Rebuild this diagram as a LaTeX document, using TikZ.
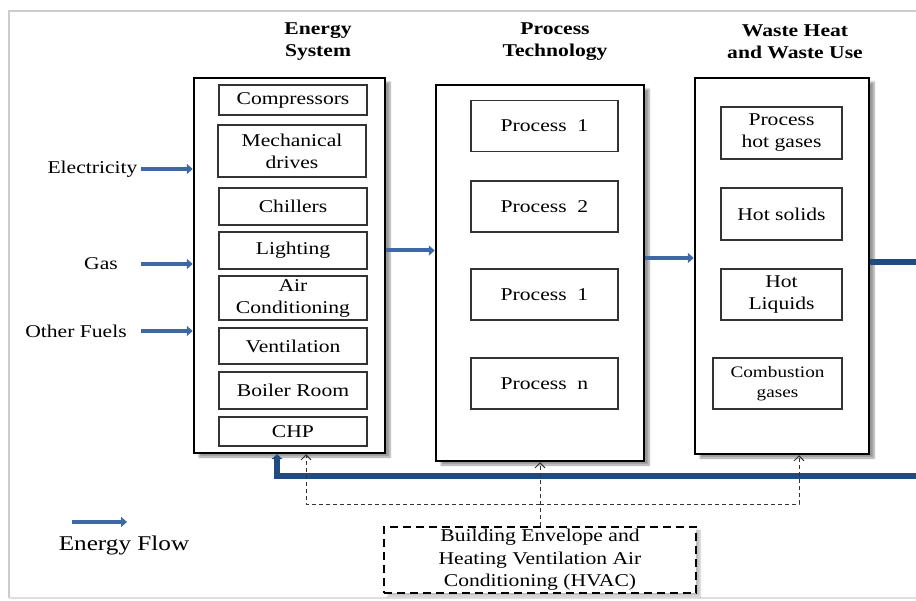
\documentclass[tikz,border=0pt]{standalone}
\usepackage{fontspec}
\setmainfont{Liberation Serif}[FakeStretch=1.2]
\usetikzlibrary{positioning,arrows.meta,shadows.blur}
\definecolor{flowblue}{RGB}{62,104,163}
\definecolor{loopblue}{RGB}{31,74,130}
\tikzstyle{sys}=[draw, line width=2.5pt, fill=white, inner sep=0pt, blur shadow={shadow xshift=5pt, shadow yshift=-4pt, shadow blur steps=6}]
\tikzstyle{subbox}=[draw, line width=1.1pt, draw=black!80, fill=white, inner sep=0pt, align=center, font=\fontsize{18}{22}\selectfont]
\tikzstyle{ttl}=[align=center, font=\fontsize{18}{22}\selectfont\bfseries]
\tikzstyle{lbl}=[font=\fontsize{18}{22}\selectfont]
\tikzstyle{flow}=[-{Triangle[length=6pt,width=10pt]}, line width=4pt, flowblue]
\tikzstyle{feed}=[-{Triangle[length=5pt,width=11pt]}, line width=6.5pt, loopblue]
\tikzstyle{dep}=[-{Straight Barb[length=5pt,width=10pt]}, line width=0.9pt, dash pattern=on 4pt off 3pt, black!80]

\begin{document}
\begin{tikzpicture}[x=1pt,y=-1pt]
\clip (0,0) rectangle (916,601);
% outer frame
\draw[black!20, line width=1.5pt] (9,598) -- (9,11) -- (930,11);
\draw[black!12, line width=1.5pt] (9,598) -- (930,598);

% titles
\node[ttl] at (318,42) (tEnergy) {Energy\\System};
\node[ttl] at (555,42) (tProcess) {Process\\Technology};
\node[ttl] at (795,42) (tWaste) {Waste Heat\\and Waste Use};

% energy system
\node[sys, minimum width=191pt, minimum height=375pt] at (289.5,265.5) (energy) {};
\node[subbox, minimum width=148pt, minimum height=30pt] at (293,100) (comp) {Compressors};
\node[subbox, minimum width=148pt, minimum height=52pt] at (292,151) (mech) {Mechanical\\drives};
\node[subbox, minimum width=148pt, minimum height=37pt] at (293,206.5) (chill) {Chillers};
\node[subbox, minimum width=148pt, minimum height=37pt] at (293,250.5) (light) {Lighting};
\node[subbox, minimum width=148pt, minimum height=44pt] at (293,298) (aircon) {Air\\Conditioning};
\node[subbox, minimum width=148pt, minimum height=36pt] at (293,346) (vent) {Ventilation};
\node[subbox, minimum width=148pt, minimum height=37pt] at (293,390.5) (boiler) {Boiler Room};
\node[subbox, minimum width=148pt, minimum height=29pt] at (293,431.5) (chp) {CHP};

% process technology
\node[sys, minimum width=208pt, minimum height=376pt] at (540,273) (process) {};
\node[subbox, minimum width=147pt, minimum height=51pt] at (544.5,126) (p1) {Process~~1};
\node[subbox, minimum width=147pt, minimum height=51pt] at (544.5,206.5) (p2) {Process~~2};
\node[subbox, minimum width=147pt, minimum height=51pt] at (544.5,294.5) (p3) {Process~~1};
\node[subbox, minimum width=147pt, minimum height=51pt] at (544.5,383.5) (pn) {Process~~n};

% waste heat and waste use
\node[sys, minimum width=174pt, minimum height=376pt] at (782,266) (waste) {};
\node[subbox, minimum width=121pt, minimum height=52pt] at (781.5,133) (hotgas) {Process\\hot gases};
\node[subbox, minimum width=121pt, minimum height=52pt] at (781.5,214) (solids) {Hot solids};
\node[subbox, minimum width=121pt, minimum height=51pt] at (781.5,294.5) (liquids) {Hot\\Liquids};
\node[subbox, minimum width=129pt, minimum height=51pt, font=\fontsize{16}{20}\selectfont] at (777.5,383.5) (comb) {Combustion\\gases};

% inputs
\node[lbl, anchor=east] at (141,169) (elec) {Electricity};
\node[lbl] at (101,264) (gas) {Gas};
\node[lbl] at (76,331) (fuels) {Other Fuels};
\draw[flow] (elec.east) -- (elec.east -| energy.west);
\draw[flow] (gas.east -| elec.east) -- (gas.east -| energy.west);
\draw[flow] (fuels.east -| elec.east) -- (fuels.east -| energy.west);

% energy flow between systems
\draw[flow] (energy.east |- light) -- (process.west |- light);
\draw[flow] ([yshift=15pt]process.east) -- ([yshift=15pt]process.east -| waste.west);

% recovered heat back to the energy system
\coordinate (outR) at (920,262);
\coordinate (outB) at (920,476);
\draw[feed, -] (waste.east |- outR) -- (outR);
\draw[feed] (outB) -| ([xshift=-12.5pt]energy.south);

% building envelope and HVAC
\node[draw, line width=2pt, dash pattern=on 8pt off 5pt, fill=white, minimum width=312pt, minimum height=66pt, inner sep=0pt, align=center, font=\fontsize{18}{22.5}\selectfont, blur shadow={shadow xshift=4pt, shadow yshift=-3pt, shadow blur steps=5, shadow opacity=25}] at (540,560) (hvac) {Building Envelope and\\Heating Ventilation Air\\Conditioning (HVAC)};
\coordinate (split) at (540,504);
\draw[dep] (hvac.north) -- (process.south);
\draw[dep] (split) -| ([xshift=16.5pt]energy.south);
\draw[dep] (split) -| ([xshift=17pt]waste.south);

% legend
\coordinate (legA) at (72,522);
\coordinate (legB) at (127,522);
\draw[flow] (legA) -- (legB);
\node[lbl, font=\fontsize{21}{24}\selectfont] at (124,545) (legend) {Energy Flow};
\end{tikzpicture}
\end{document}
